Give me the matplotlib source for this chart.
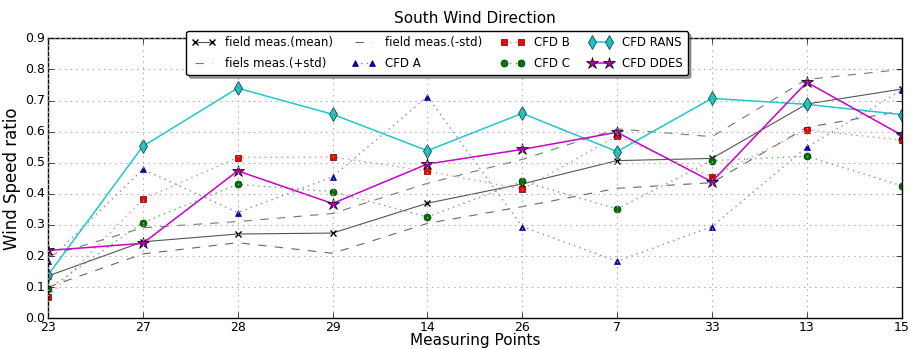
import matplotlib
matplotlib.use("Agg")
import matplotlib.pyplot as plt
import numpy as np

# measuring points along the x axis
points = ['23', '27', '28', '29', '14', '26', '7', '33', '13', '15']

field_mean = [0.136, 0.246, 0.271, 0.274, 0.370, 0.432, 0.507, 0.514, 0.689, 0.737]
field_plus = [0.200, 0.291, 0.311, 0.337, 0.434, 0.511, 0.609, 0.584, 0.768, 0.800]
field_minus = [0.100, 0.207, 0.243, 0.209, 0.305, 0.359, 0.418, 0.436, 0.614, 0.666]
cfd_a = [0.184, 0.479, 0.340, 0.455, 0.713, 0.295, 0.183, 0.295, 0.550, 0.734]
cfd_b = [0.070, 0.383, 0.517, 0.519, 0.473, 0.415, 0.586, 0.455, 0.606, 0.573]
cfd_c = [0.093, 0.308, 0.431, 0.407, 0.326, 0.440, 0.352, 0.507, 0.521, 0.426]
cfd_rans = [0.139, 0.553, 0.740, 0.656, 0.539, 0.659, 0.536, 0.707, 0.688, 0.655]
cfd_ddes = [0.218, 0.241, 0.474, 0.369, 0.496, 0.543, 0.598, 0.439, 0.759, 0.589]

plt.style.use('classic')
plt.rcParams['figure.facecolor'] = 'white'

fig = plt.figure(figsize=(9.11, 3.49), dpi=100)
ax = fig.add_axes([0.0527, 0.088, 0.937, 0.802])

x = np.arange(len(points))

ax.plot(x, field_mean, color='#555555', ls='-', lw=0.8, marker='x', ms=5,
        mec='black', mew=1, label='field meas.(mean)')
ax.plot(x, field_plus, color='#777777', ls='--', lw=0.8, label='fiels meas.(+std)')
ax.plot(x, field_minus, color='#666666', ls='--', lw=0.8, label='field meas.(-std)')
ax.plot(x, cfd_a, color='#8080ff', ls=':', lw=1, marker='^', ms=5,
        mfc='#0000cc', mec='#000066', label='CFD A')
ax.plot(x, cfd_b, color='#ff8080', ls=':', lw=1, marker='s', ms=5,
        mfc='red', mec='#550000', label='CFD B')
ax.plot(x, cfd_c, color='#60b060', ls=':', lw=1, marker='o', ms=5,
        mfc='#007700', mec='#003300', label='CFD C')
ax.plot(x, cfd_rans, color='#20c8c8', ls='-', lw=1.1, marker='d', ms=7,
        mfc='#20c0c0', mec='#003333', label='CFD RANS')
ax.plot(x, cfd_ddes, color='#cc00cc', ls='-', lw=1.1, marker='*', ms=9,
        mfc='#aa00aa', mec='black', label='CFD DDES')

ax.set_xlim(0, len(points) - 1)
ax.set_ylim(0, 0.9)
ax.set_xticks(x)
ax.set_xticklabels(points)
ax.set_yticks(np.arange(0, 0.91, 0.1))
ax.tick_params(labelsize=9, pad=2)
ax.grid(True, color='#aaaaaa', ls=':', lw=0.8)

ax.set_xlabel('Measuring Points', fontsize=11, labelpad=-1)
ax.set_ylabel('Wind Speed ratio', fontsize=12, labelpad=3)
ax.set_title('South Wind Direction', fontsize=11, y=1.03)

ax.legend(loc='upper center', bbox_to_anchor=(0.456, 1.026), ncol=4,
          fontsize=8.5, numpoints=2, fancybox=True, shadow=True,
          columnspacing=1.6, handlelength=2.0, borderpad=0.45,
          labelspacing=0.65, handletextpad=0.8, borderaxespad=0,
          framealpha=1)

fig.savefig('out.png', dpi=100)
